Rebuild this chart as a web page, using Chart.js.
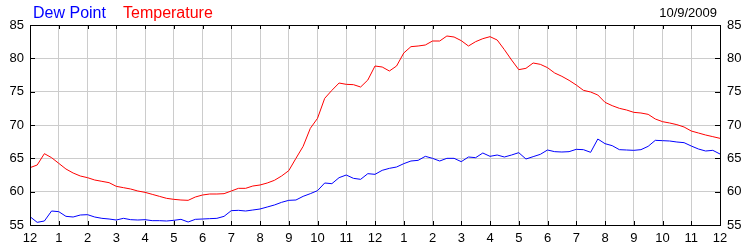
<!DOCTYPE html>
<html>
<head>
<meta charset="utf-8">
<script src="https://cdn.jsdelivr.net/npm/chart.js@4"></script>
<style>
  body { margin: 0; background: #fff; }
  #wrap { width: 750px; height: 250px; position: relative; }
</style>
</head>
<body>
<div id="wrap"><canvas id="chart"></canvas></div>
<script>
// hours since midnight, one reading every 15 minutes
const hours = [];
for (let i = 0; i <= 96; i++) hours.push(i / 4);

const hourLabels = ["12", "1", "2", "3", "4", "5", "6", "7", "8", "9", "10", "11",
                    "12", "1", "2", "3", "4", "5", "6", "7", "8", "9", "10", "11", "12"];

const temperature = [
  63.6, 64.0, 65.7, 65.1, 64.25, 63.4, 62.8, 62.35, 62.1, 61.75, 61.55, 61.35,
  60.8, 60.6, 60.4, 60.1, 59.9, 59.6, 59.3, 59.0, 58.85, 58.75, 58.7, 59.2,
  59.5, 59.65, 59.65, 59.7, 60.1, 60.5, 60.5, 60.85, 61.0, 61.3, 61.7, 62.35,
  63.15, 65.0, 66.8, 69.5, 71.0, 74.0, 75.2, 76.3, 76.1, 76.05, 75.7, 76.75,
  78.85, 78.7, 78.1, 78.85, 80.8, 81.75, 81.85, 82.0, 82.6, 82.6, 83.35, 83.2,
  82.65, 81.85, 82.5, 82.95, 83.25, 82.75, 81.3, 79.75, 78.3, 78.5, 79.3, 79.1,
  78.6, 77.8, 77.3, 76.7, 76.0, 75.2, 74.95, 74.5, 73.4, 72.9, 72.5, 72.25,
  71.9, 71.8, 71.6, 70.9, 70.5, 70.3, 70.05, 69.7, 69.1, 68.8, 68.5, 68.25, 68.0
];

const dewPoint = [
  56.25, 55.4, 55.6, 57.1, 57.0, 56.3, 56.2, 56.5, 56.55, 56.2, 56.0, 55.9,
  55.75, 56.0, 55.8, 55.75, 55.8, 55.65, 55.65, 55.6, 55.7, 55.85, 55.45, 55.85,
  55.9, 55.95, 56.0, 56.3, 57.15, 57.2, 57.1, 57.25, 57.4, 57.7, 58.0, 58.4,
  58.7, 58.75, 59.3, 59.7, 60.15, 61.3, 61.2, 62.1, 62.5, 62.0, 61.85, 62.7,
  62.6, 63.2, 63.5, 63.7, 64.2, 64.6, 64.7, 65.3, 65.0, 64.6, 65.0, 65.0,
  64.5, 65.2, 65.1, 65.8, 65.3, 65.5, 65.2, 65.5, 65.85, 64.9, 65.25, 65.6,
  66.25, 66.0, 65.95, 66.0, 66.35, 66.3, 65.9, 67.9, 67.2, 66.9, 66.3, 66.25,
  66.2, 66.3, 66.8, 67.7, 67.65, 67.6, 67.45, 67.35, 66.85, 66.4, 66.1, 66.2, 65.65
];

const dateLabel = "10/9/2009";

const toXY = vals => vals.map((v, i) => ({ x: hours[i], y: v }));

// header texts + inward tick marks + black frame
const decor = {
  id: "decor",
  afterDraw(chart) {
    const c = chart.ctx;
    const a = chart.chartArea;
    c.save();
    c.font = "16px 'Liberation Sans', Arial, sans-serif";
    c.textBaseline = "alphabetic";
    c.textAlign = "left";
    c.fillStyle = "#0000ff";
    c.fillText("Dew Point", 33, 18);
    c.fillStyle = "#ff0000";
    c.fillText("Temperature", 123, 18);
    c.font = "13px 'Liberation Sans', Arial, sans-serif";
    c.fillStyle = "#000";
    c.textAlign = "right";
    c.fillText(dateLabel, 717, 17);

    c.strokeStyle = "#000";
    c.lineWidth = 1;
    c.beginPath();
    const xs = chart.scales.x;
    xs.ticks.forEach(t => {
      const px = Math.round(xs.getPixelForValue(t.value)) + 0.5;
      c.moveTo(px, a.bottom); c.lineTo(px, a.bottom - 4);
      c.moveTo(px, a.top); c.lineTo(px, a.top + 4);
    });
    const ys = chart.scales.y;
    ys.ticks.forEach(t => {
      const py = Math.round(ys.getPixelForValue(t.value)) + 0.5;
      c.moveTo(a.left, py); c.lineTo(a.left + 5, py);
      c.moveTo(a.right, py); c.lineTo(a.right - 5, py);
    });
    c.stroke();
    c.strokeRect(Math.round(a.left) + 0.5, Math.round(a.top) + 0.5,
                 Math.round(a.right - a.left), Math.round(a.bottom - a.top));
    c.restore();
  }
};

const tickFont = { family: "'Liberation Sans', Arial, sans-serif", size: 13 };

new Chart(document.getElementById("chart"), {
  type: "line",
  data: {
    datasets: [
      { label: "Dew Point", data: toXY(dewPoint), borderColor: "#0000ff", borderWidth: 1,
        pointRadius: 0, tension: 0, fill: false, yAxisID: "y" },
      { label: "Temperature", data: toXY(temperature), borderColor: "#ff0000", borderWidth: 1,
        pointRadius: 0, tension: 0, fill: false, yAxisID: "y" }
    ]
  },
  options: {
    responsive: true,
    maintainAspectRatio: false,
    animation: false,
    layout: { padding: { top: 25, left: 0, right: 0, bottom: 0 } },
    plugins: { legend: { display: false }, tooltip: { enabled: false } },
    scales: {
      x: {
        type: "linear", min: 0, max: 24,
        afterFit: s => { s.height = 25; },
        ticks: {
          stepSize: 1, maxTicksLimit: 30, autoSkip: false, maxRotation: 0,
          padding: 6, color: "#000", font: tickFont,
          callback: (v) => hourLabels[v]
        },
        grid: { color: "#cccccc", drawTicks: false },
        border: { display: false }
      },
      y: {
        position: "left", min: 55, max: 85,
        afterFit: s => { s.width = 30; },
        ticks: { stepSize: 5, padding: 6, color: "#000", font: tickFont },
        grid: { color: "#cccccc", drawTicks: false },
        border: { display: false }
      },
      y2: {
        position: "right", min: 55, max: 85,
        afterFit: s => { s.width = 30; },
        ticks: { stepSize: 5, padding: 7, color: "#000", font: tickFont },
        grid: { display: false, drawTicks: false },
        border: { display: false }
      }
    }
  },
  plugins: [decor]
});
</script>
</body>
</html>
